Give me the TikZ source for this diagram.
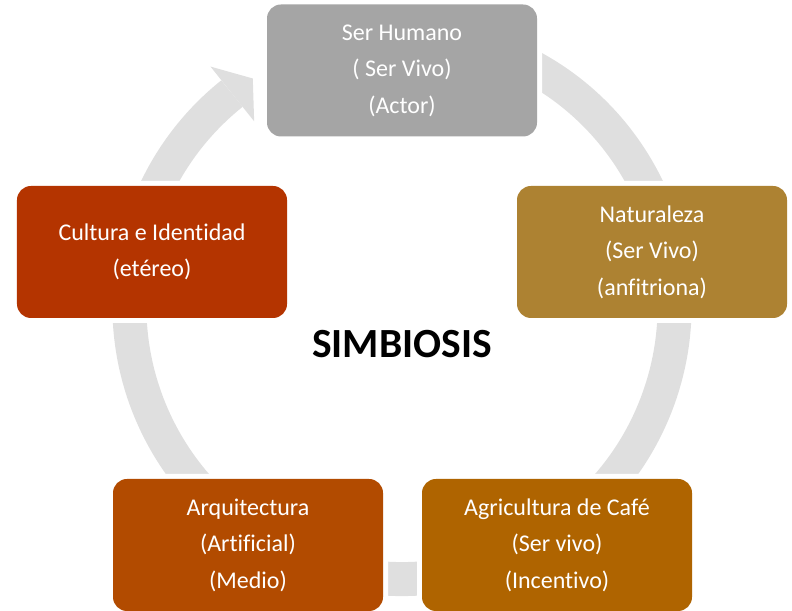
\documentclass[tikz,border=0pt]{standalone}
\usepackage{fontspec}
\setmainfont{Carlito}[Ligatures={NoCommon}]
\definecolor{ringgray}{HTML}{DFDFDF}
\definecolor{cGray}{HTML}{A5A5A5}
\definecolor{cNat}{HTML}{AD8232}
\definecolor{cCult}{HTML}{B43400}
\definecolor{cArq}{HTML}{B24B00}
\definecolor{cAgri}{HTML}{AF6400}
\begin{document}
\begin{tikzpicture}[x=1bp,y=1bp,
  box/.style={rectangle, rounded corners=14bp, minimum width=270bp,
    minimum height=132bp, inner sep=0pt, text=white, align=center,
    font=\fontsize{24bp}{36.5bp}\selectfont, fill=#1,
    preaction={draw=white, line width=10bp}},
  ringband/.style={draw=ringgray, line width=34bp},
  title/.style={font=\fontsize{41.5bp}{48bp}\selectfont\bfseries, text=black, inner sep=0pt}]
\useasboundingbox (0,0) rectangle (792,611);
\coordinate (O) at (402,304.5);
% cycle ring with one arrowhead pointing to the top box
\draw[ringband, shift={(O)}] (70:272.5bp) arc[start angle=70, end angle=-231.4, radius=272.5bp];
\fill[ringgray, shift={(O)}] (128.6:237bp) -- (128.6:307bp) -- (123.2:272.5bp) -- cycle;
% boxes
\node[box=cGray] (hum) at (402,540.5) {Ser Humano\\( Ser Vivo)\\(Actor)};
\node[box=cNat] (nat) at (652,359) {Naturaleza\\(Ser Vivo)\\(anfitriona)};
\node[box=cCult] (cul) at (152,359) {Cultura e Identidad\\(etéreo)};
\node[box=cArq] (arq) at (248,66) {Arquitectura\\(Artificial)\\(Medio)};
\node[box=cAgri] (agr) at (557,66) {Agricultura de Café\\(Ser vivo)\\(Incentivo)};
\node[title, anchor=base] (sim) at (402,253.3) {SIMBIOSIS};
\end{tikzpicture}
\end{document}
